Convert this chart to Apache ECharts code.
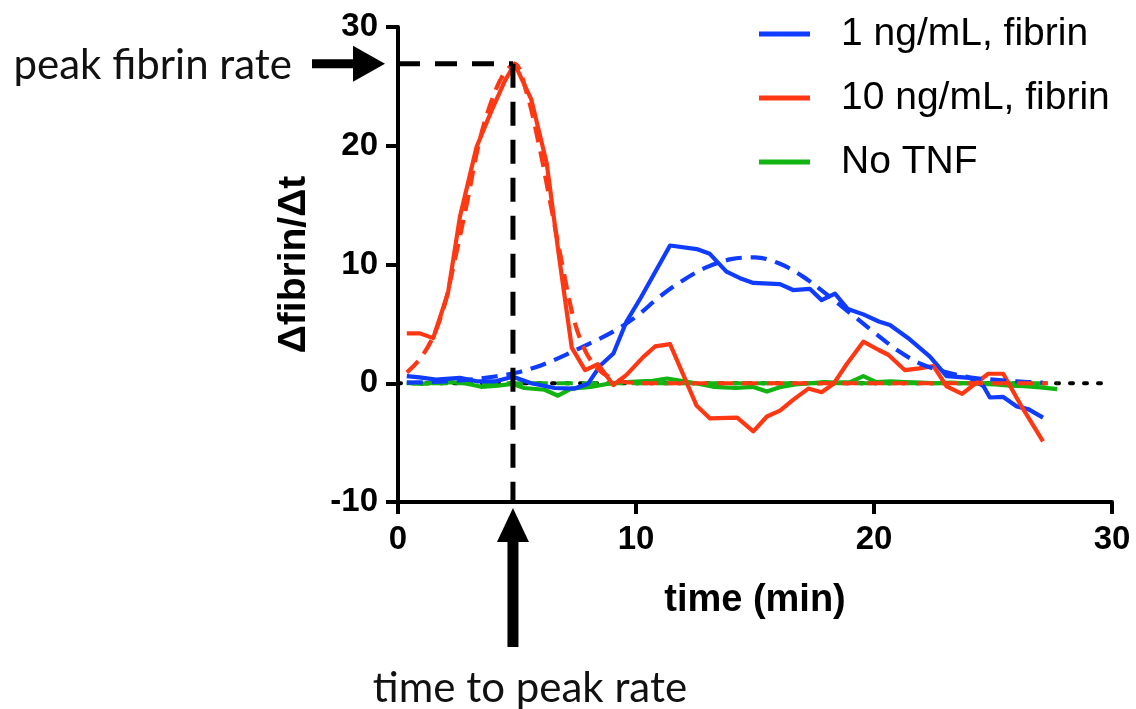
<!DOCTYPE html>
<html>
<head>
<meta charset="utf-8">
<script src="https://cdn.jsdelivr.net/npm/echarts/dist/echarts.min.js"></script>
<style>
html,body{margin:0;padding:0;background:#fff;}
#c{width:1136px;height:709px;}
</style>
</head>
<body>
<div id="c"></div>
<script>
// ---------- data ----------
const seriesNames = ['1 ng/mL, fibrin', '10 ng/mL, fibrin', 'No TNF'];
const xTicks = [0, 10, 20, 30];
const yTicks = [-10, 0, 10, 20, 30];

const blueSolid = [[0.37,0.6],[0.9,0.5],[1.6,0.3],[2.6,0.45],[3.36,0.15],[4.06,0.15],[4.83,0.55],[5.6,0.0],[6.58,-0.4],[7.42,-0.45],[7.98,-0.05],[8.5,1.5],[9.05,2.5],[9.6,5.2],[10.2,7.2],[11.43,11.6],[12.55,11.3],[13.1,10.9],[13.8,9.4],[14.37,8.85],[14.93,8.45],[16.05,8.35],[16.6,7.85],[17.3,7.95],[17.8,7.0],[18.36,7.55],[18.9,6.25],[19.55,5.8],[20.2,5.2],[20.67,4.9],[21.5,3.7],[22.35,2.25],[23.05,0.6],[24.03,0.45],[24.6,-0.25],[24.87,-1.2],[25.43,-1.15],[26.0,-1.95],[26.5,-2.2],[27.1,-2.9]];

const blueFit = [[0.37,0.05],[1.0,0.08],[2.0,0.15],[3.0,0.3],[4.0,0.55],[5.0,0.9],[6.0,1.5],[7.0,2.35],[8.0,3.3],[9.0,4.3],[10.0,5.6],[11.0,7.3],[12.0,8.7],[13.0,9.8],[14.0,10.45],[15.0,10.6],[16.0,10.1],[17.0,9.0],[18.0,7.5],[19.0,5.9],[20.0,4.3],[21.0,2.75],[22.0,1.6],[23.0,0.95],[24.0,0.5],[25.0,0.3],[26.0,0.15],[27.1,0.05]];

const redSolid = [[0.37,4.2],[0.92,4.2],[1.48,3.8],[2.1,7.6],[2.6,14.0],[3.3,19.9],[3.94,23.0],[4.5,25.5],[4.9,26.9],[5.6,23.9],[6.25,18.5],[6.73,11.2],[7.3,3.0],[7.86,1.1],[8.4,1.6],[9.05,-0.15],[9.6,0.7],[10.3,2.2],[10.8,3.1],[11.43,3.3],[12.55,-1.9],[13.1,-2.95],[14.25,-2.9],[14.93,-4.05],[15.5,-2.8],[16.05,-2.3],[16.6,-1.4],[17.24,-0.45],[17.8,-0.75],[18.3,-0.05],[18.85,1.6],[19.55,3.5],[20.2,2.8],[20.6,2.4],[21.3,1.1],[21.9,1.25],[22.5,1.45],[23.05,-0.27],[23.7,-0.9],[24.8,0.8],[25.43,0.8],[26.2,-1.95],[27.1,-4.9]];

const redFit = [[0.37,0.9],[0.9,2.0],[1.4,3.6],[1.9,6.2],[2.4,10.5],[2.9,15.2],[3.4,20.2],[3.9,23.6],[4.4,25.9],[4.9,26.9],[5.4,24.5],[5.9,20.3],[6.4,15.2],[6.9,10.0],[7.4,5.3],[7.9,2.6],[8.4,1.2],[8.9,0.5],[9.4,0.15],[10.0,0.03],[11.0,0],[27.3,0]];

const greenSolid = [[0.37,0.05],[1.0,-0.05],[1.6,0.05],[2.2,0.1],[2.8,0.0],[3.5,-0.3],[4.2,-0.2],[4.8,-0.05],[5.3,-0.4],[6.16,-0.55],[6.72,-1.05],[7.28,-0.45],[8.1,-0.3],[8.96,0.0],[9.6,0.1],[10.2,0.15],[10.7,0.2],[11.3,0.4],[11.9,0.2],[12.5,0.0],[13.25,-0.3],[14.2,-0.4],[14.9,-0.3],[15.5,-0.7],[16.1,-0.3],[16.7,-0.1],[17.3,0.0],[17.9,0.1],[18.4,0.05],[19.0,0.1],[19.55,0.6],[20.1,0.1],[20.7,0.15],[21.3,0.1],[22.0,0.05],[22.6,0.0],[23.2,0.05],[23.9,0.0],[24.5,-0.05],[25.1,-0.1],[25.7,-0.2],[26.3,-0.25],[27.0,-0.35],[27.7,-0.5]];

const greenFit = [[0.37,0],[27.7,0]];
const zeroLine = [[0,0],[30,0]];

const peakTime = 4.83;
const peakRate = 26.9;
const peakLabel = 'peak fibrin rate';
const timeLabel = 'time to peak rate';

// ---------- styles ----------
const BLUE = '#0f3cff', RED = '#ff3814', GREEN = '#12b412';
const AX = 'Liberation Sans';

const chart = echarts.init(document.getElementById('c'), null, {renderer:'canvas'});

function line(name, data, color, dashed, z, smooth) {
  return {
    name: name, type: 'line', data: data, showSymbol: false, symbol: 'none',
    smooth: smooth ? 0.35 : false, z: z, silent: true, animation: false,
    color: color,
    itemStyle: {color: color},
    lineStyle: {color: color, width: 4.2, type: dashed ? [16, 9] : 'solid', cap: 'butt', join: 'round'}
  };
}

const option = {
  animation: false,
  backgroundColor: '#fff',
  grid: {left: 398, right: 24, top: 27, bottom: 207, containLabel: false},
  legend: {
    data: seriesNames, orient: 'vertical', left: 754, top: 9,
    icon: 'rect', itemWidth: 51, itemHeight: 5, itemGap: 24,
    selectedMode: false,
    textStyle: {fontFamily: AX, fontSize: 39, color: '#000', padding: [0,0,0,26], lineHeight: 40}
  },
  xAxis: {
    type: 'value', min: xTicks[0], max: xTicks[xTicks.length-1], interval: 10,
    name: 'time (min)', nameLocation: 'middle', nameGap: 80,
    nameTextStyle: {fontFamily: AX, fontSize: 38, fontWeight: 'bold', color: '#000', verticalAlign: 'top'},
    axisLine: {onZero: false, lineStyle: {color: '#000', width: 4}},
    axisTick: {length: 12, lineStyle: {color: '#000', width: 4}},
    axisLabel: {fontFamily: AX, fontSize: 33, fontWeight: 'bold', color: '#000', margin: 21},
    splitLine: {show: false}
  },
  yAxis: {
    type: 'value', min: yTicks[0], max: yTicks[yTicks.length-1], interval: 10,
    name: 'Δfibrin/Δt', nameLocation: 'middle', nameGap: 84,
    nameTextStyle: {fontFamily: AX, fontSize: 39, fontWeight: 'bold', color: '#000'},
    axisLine: {show: true, onZero: false, lineStyle: {color: '#000', width: 4}},
    axisTick: {show: true, length: 12, lineStyle: {color: '#000', width: 4}},
    axisLabel: {fontFamily: AX, fontSize: 33, fontWeight: 'bold', color: '#000', margin: 20},
    splitLine: {show: false}
  },
  series: [
    {name: 'zero', type: 'line', data: zeroLine, showSymbol: false, symbol: 'none', z: 1, silent: true,
     lineStyle: {color: '#000', width: 4, type: [3, 11], cap: 'round'}, itemStyle: {color: '#000'}},
    line('No TNF fit', greenFit, GREEN, true, 2, false),
    line(seriesNames[2], greenSolid, GREEN, false, 3, false),
    line(seriesNames[0], blueSolid, BLUE, false, 4, false),
    line(seriesNames[1], redSolid, RED, false, 5, false),
    line('1 ng/mL fit', blueFit, BLUE, true, 6, true),
    line('10 ng/mL fit', redFit, RED, true, 7, true),
    {name: 'peakH', type: 'line', data: [[0, peakRate], [peakTime, peakRate]], showSymbol: false, symbol: 'none', z: 8, silent: true,
     lineStyle: {color: '#000', width: 5, type: [22, 15]}, itemStyle: {color: '#000'}},
    {name: 'peakV', type: 'line', data: [[peakTime, peakRate], [peakTime, yTicks[0]]], showSymbol: false, symbol: 'none', z: 8, silent: true,
     lineStyle: {color: '#000', width: 5, type: [24, 14]}, itemStyle: {color: '#000'}}
  ]
};
chart.setOption(option);

// ---------- annotation arrows, positioned from the axes ----------
const pPeak = chart.convertToPixel({gridIndex: 0}, [peakTime, peakRate]);
const pOrig = chart.convertToPixel({gridIndex: 0}, [xTicks[0], yTicks[0]]);
const tipX = pOrig[0] - 13, tailX = pOrig[0] - 86, ay = pPeak[1];
const bx = pPeak[0], tipY = pOrig[1] + 6, tailY = pOrig[1] + 145;
chart.setOption({
  graphic: [
    {type: 'rect', shape: {x: tailX, y: ay - 4.5, width: (tipX - 32) - tailX + 1, height: 9}, style: {fill: '#000'}, z: 100},
    {type: 'polygon', shape: {points: [[tipX - 32, ay - 18], [tipX, ay], [tipX - 32, ay + 18]]}, style: {fill: '#000'}, z: 100},
    {type: 'rect', shape: {x: bx - 5.5, y: tipY + 33, width: 11, height: tailY - (tipY + 33)}, style: {fill: '#000'}, z: 100},
    {type: 'polygon', shape: {points: [[bx - 16, tipY + 34], [bx, tipY], [bx + 16, tipY + 34]]}, style: {fill: '#000'}, z: 100},
    {type: 'text', style: {x: tailX - 20, y: ay + 2, text: peakLabel, align: 'right', verticalAlign: 'middle',
      font: '42px Lato', fill: '#111'}, z: 100},
    {type: 'text', style: {x: bx + 17, y: pOrig[1] + 186, text: timeLabel, align: 'center', verticalAlign: 'middle',
      font: '42px Lato', fill: '#111'}, z: 100}
  ]
});
</script>
</body>
</html>
